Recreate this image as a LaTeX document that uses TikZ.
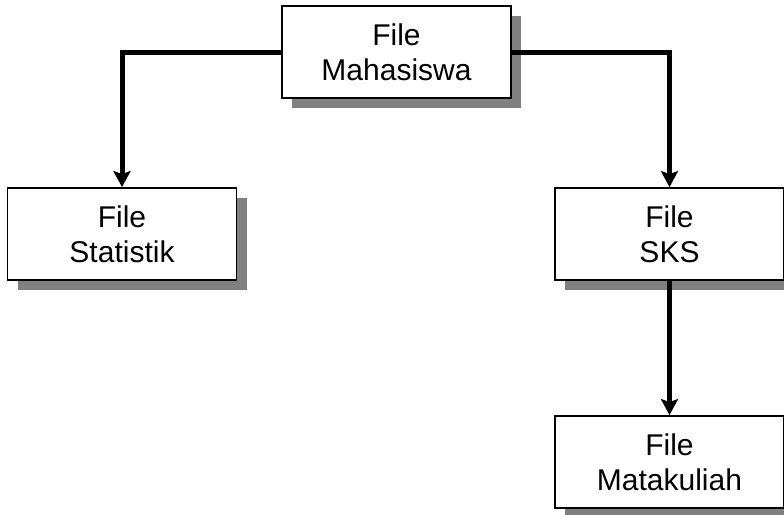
\documentclass[tikz,border=0pt]{standalone}
\usepackage{fontspec}
\setmainfont{Liberation Sans}
\usetikzlibrary{shadows,arrows.meta}
\begin{document}
\begin{tikzpicture}[x=1pt,y=-1pt,
  filebox/.style={draw=black, line width=1.8pt, fill=white, minimum width=229pt, minimum height=92pt,
    inner sep=0pt, align=center, font=\fontsize{30pt}{35pt}\selectfont,
    drop shadow={shadow xshift=10pt, shadow yshift=-10pt, fill=black!50, opacity=1}},
  conn/.style={line width=5pt, -{Stealth[length=16pt, width=17pt, inset=3pt]}}]
\useasboundingbox (0,0) rectangle (784,514);
\clip (0,0) rectangle (784,514);
\node[filebox] (mah) at (396.5,52) {File\\Mahasiswa};
\node[filebox] (stat) at (122,234) {File\\Statistik};
\node[filebox] (sks) at (669.5,234) {File\\SKS};
\node[filebox] (mata) at (669.5,462) {File\\Matakuliah};
\draw[conn] (mah.west) -| (stat.north);
\draw[conn] (mah.east) -| (sks.north);
\draw[conn] (sks.south) -- (mata.north);
\end{tikzpicture}
\end{document}
